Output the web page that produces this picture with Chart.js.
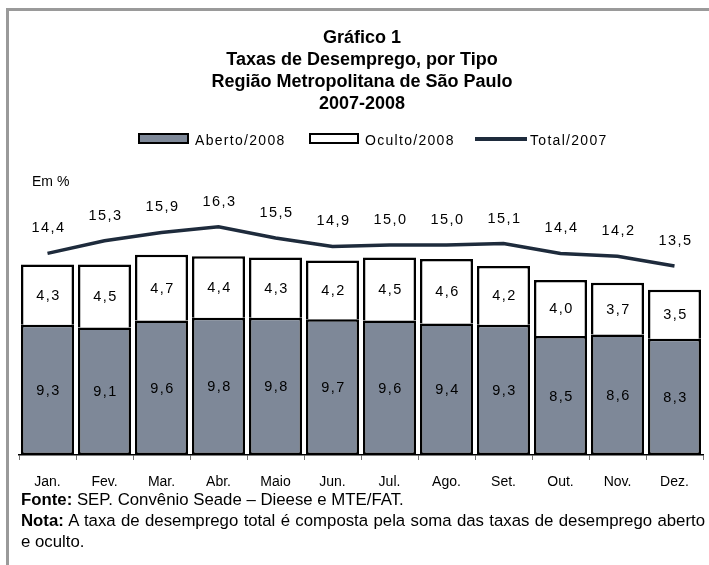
<!DOCTYPE html>
<html>
<head>
<meta charset="utf-8">
<script src="https://cdn.jsdelivr.net/npm/chart.js@4.4.1/dist/chart.umd.min.js"></script>
<style>
  html, body { margin:0; padding:0; background:#fff; }
  body { width:709px; height:565px; position:relative; overflow:hidden; font-family:"Liberation Sans", Arial, sans-serif; color:#000; }
  #frame { position:absolute; left:6px; top:8px; width:720px; height:600px; border-left:3px solid #9a9a9a; border-top:3px solid #9a9a9a; }
  #wrap { position:absolute; left:0; top:0; width:709px; height:565px; }
  .title { position:absolute; left:0; width:724px; top:26px; text-align:center; font-weight:bold; font-size:18px; line-height:22px; }
  .leg { position:absolute; font-size:14px; letter-spacing:1.3px; line-height:16px; }
  .box { position:absolute; box-sizing:border-box; border:2px solid #000; }
  .em { position:absolute; left:32px; top:173px; font-size:14px; }
  .notes { position:absolute; left:21px; font-size:16.8px; line-height:21px; width:684px; text-align:justify; }
</style>
</head>
<body>
<div id="frame"></div>
<div id="wrap"><canvas id="c" width="709" height="565"></canvas></div>
<div class="title">Gráfico 1<br>Taxas de Desemprego, por Tipo<br>Região Metropolitana de São Paulo<br>2007-2008</div>
<div class="box" style="left:138px; top:133px; width:51px; height:11px; background:#7e8898;"></div>
<div class="leg" style="left:195px; top:132px;">Aberto/2008</div>
<div class="box" style="left:309px; top:133px; width:50px; height:11px; background:#fff;"></div>
<div class="leg" style="left:365px; top:132px;">Oculto/2008</div>
<div style="position:absolute; left:475px; top:137px; width:52px; height:4px; background:#1e2b3c;"></div>
<div class="leg" style="left:530px; top:132px;">Total/2007</div>
<div class="em">Em %</div>
<div class="notes" style="top:489px;"><b>Fonte:</b> SEP. Convênio Seade – Dieese e MTE/FAT.</div>
<div class="notes" style="top:510px;"><b>Nota:</b> A taxa de desemprego total é composta pela soma das taxas de desemprego aberto e oculto.</div>
<script>
const months = ['Jan.', 'Fev.', 'Mar.', 'Abr.', 'Maio', 'Jun.', 'Jul.', 'Ago.', 'Set.', 'Out.', 'Nov.', 'Dez.'];
const aberto2008 = [9.3, 9.1, 9.6, 9.8, 9.8, 9.7, 9.6, 9.4, 9.3, 8.5, 8.6, 8.3];
const oculto2008 = [4.3, 4.5, 4.7, 4.4, 4.3, 4.2, 4.5, 4.6, 4.2, 4.0, 3.7, 3.5];
const total2007 = [14.4, 15.3, 15.9, 16.3, 15.5, 14.9, 15.0, 15.0, 15.1, 14.4, 14.2, 13.5];

const valueLabels = {
  id: 'valueLabels',
  afterDatasetsDraw(chart) {
    const ctx = chart.ctx;
    ctx.save();
    ctx.font = '14.5px "Liberation Sans", Arial, sans-serif';
    ctx.fillStyle = '#000';
    ctx.textAlign = 'center';
    ctx.textBaseline = 'middle';
    try { ctx.letterSpacing = '1.5px'; } catch (e) {}
    chart.data.datasets.forEach((ds, i) => {
      const meta = chart.getDatasetMeta(i);
      meta.data.forEach((el, j) => {
        const txt = ds.data[j].toFixed(1).replace('.', ',');
        const y = meta.type === 'bar' ? (el.y + el.base) / 2 + 1 : el.y - 25;
        ctx.fillText(txt, el.x + 1, y);
      });
    });
    ctx.restore();
  }
};

new Chart(document.getElementById('c'), {
  type: 'bar',
  data: {
    labels: months,
    datasets: [
      { type: 'line', label: 'Total/2007', data: total2007, stack: 'line', borderColor: '#1e2b3c', borderWidth: 3.5, pointRadius: 0, tension: 0, fill: false, order: 0 },
      { label: 'Aberto/2008', data: aberto2008, stack: 'bars', backgroundColor: '#7e8898', borderColor: '#000', borderWidth: 2.5, borderSkipped: false, order: 1 },
      { label: 'Oculto/2008', data: oculto2008, stack: 'bars', backgroundColor: '#fff', borderColor: '#000', borderWidth: 2.5, borderSkipped: 'bottom', order: 1 }
    ]
  },
  options: {
    responsive: false,
    animation: false,
    layout: { padding: { left: 19, right: 6, top: 203, bottom: 70 } },
    datasets: { bar: { barPercentage: 0.93, categoryPercentage: 1 } },
    plugins: { legend: { display: false }, title: { display: false }, tooltip: { enabled: false } },
    scales: {
      x: {
        stacked: true,
        afterFit: (s) => { s.height = 40; },
        grid: { display: true, drawOnChartArea: false, drawTicks: true, tickLength: 5, color: '#777', offset: true },
        border: { display: true, color: '#000', width: 1.5 },
        ticks: { color: '#000', padding: 14, font: { family: '"Liberation Sans", Arial, sans-serif', size: 14 } }
      },
      y: { stacked: true, display: false, min: 0, max: 18 }
    }
  },
  plugins: [valueLabels]
});
</script>
</body>
</html>
